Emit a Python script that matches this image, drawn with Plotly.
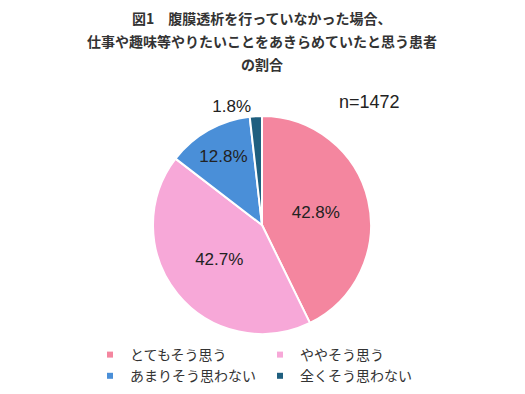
import plotly.graph_objects as go

categories = ["とてもそう思う", "ややそう思う", "あまりそう思わない", "全くそう思わない"]
values = [42.8, 42.7, 12.8, 1.8]
colors = ["#F4869F", "#F7A8D8", "#4A8FD8", "#1F5F7F"]
title_lines = ["図1　腹膜透析を行っていなかった場合、",
               "仕事や趣味等やりたいことをあきらめていたと思う患者",
               "の割合"]
n_label = "n=1472"

W, H = 525, 394
ML, MR = 50, 50
PW = W - ML - MR
CX, CY, R = 262, 225, 109

fig = go.Figure()
fig.add_trace(go.Pie(
    labels=categories, values=values, sort=False, direction="clockwise", rotation=0,
    marker=dict(colors=colors, line=dict(color="white", width=2)),
    texttemplate="%{value}%",
    textposition=["inside", "inside", "inside", "outside"],
    insidetextorientation="horizontal",
    textfont=dict(family="Liberation Sans, Arial, sans-serif", size=17, color="#222222"),
    showlegend=False, hoverinfo="label+percent",
    domain=dict(x=[(CX - R - ML) / PW, (CX + R - ML) / PW], y=[(H - CY - R) / H, (H - CY + R) / H]),
))
for c, col in zip(categories, colors):
    fig.add_trace(go.Scatter(x=[None], y=[None], mode="markers", name=c,
                             marker=dict(symbol="square", size=6, color=col)))

annotations = []
for i, t in enumerate(title_lines):
    annotations.append(dict(text="<b>" + t + "</b>", x=(262 - ML) / PW, y=1 - (18 + 23 * i) / H,
                            xref="paper", yref="paper", showarrow=False, xanchor="center", yanchor="middle",
                            font=dict(family="Noto Sans CJK JP", size=14, color="#333333")))
annotations.append(dict(text=n_label, x=(369 - ML) / PW, y=1 - 102 / H, xref="paper", yref="paper",
                        showarrow=False, xanchor="center", yanchor="middle",
                        font=dict(family="Liberation Sans, Arial, sans-serif", size=18, color="#222222")))

fig.update_layout(
    width=W, height=H, margin=dict(l=ML, r=MR, t=0, b=0),
    paper_bgcolor="white", plot_bgcolor="white",
    xaxis=dict(visible=False), yaxis=dict(visible=False),
    annotations=annotations,
    legend=dict(orientation="h", x=(90 - ML) / PW, y=1 - 339 / H, xanchor="left", yanchor="top",
                entrywidth=125, entrywidthmode="pixels", traceorder="normal",
                font=dict(family="Noto Sans CJK JP", size=14, color="#333333"),
                itemclick=False, itemdoubleclick=False),
)
fig.write_html("out.html", config={"displayModeBar": False},
               post_script="document.body.style.margin='0';")
